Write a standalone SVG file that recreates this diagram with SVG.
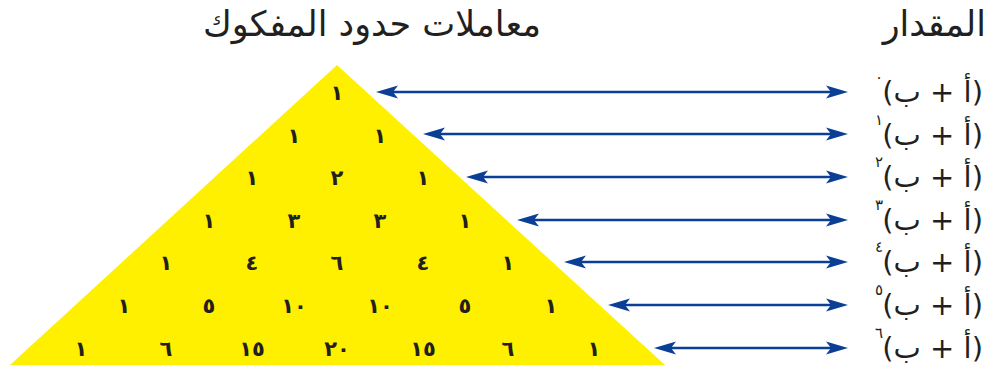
<svg xmlns="http://www.w3.org/2000/svg" width="988" height="365" viewBox="0 0 988 365">
<style>
.hd{font-family:"DejaVu Sans",sans-serif;font-size:35px;fill:#231f20}
.num{font-family:"DejaVu Sans",sans-serif;font-size:21px;font-weight:bold;fill:#231f20;text-anchor:middle}
.lbl{font-family:"DejaVu Sans",sans-serif;font-size:29px;fill:#231f20}
.sup{font-family:"DejaVu Sans",sans-serif;font-size:15px;fill:#231f20;text-anchor:middle}
.arr{stroke:#0b3f96;stroke-width:2.6;fill:none;marker-start:url(#ah);marker-end:url(#ah)}
</style>
<defs>
<marker id="ah" markerUnits="userSpaceOnUse" viewBox="0 -7 22 14" refX="12" refY="0" markerWidth="22" markerHeight="14" orient="auto-start-reverse">
<path d="M22,0 L0,-6.5 L5,0 L0,6.5 Z" fill="#0b3f96"/>
</marker>
</defs>
<g id="headers">
<text class="hd" x="372" y="36" text-anchor="middle" direction="rtl">معاملات حدود المفكوك</text>
<text class="hd" x="986" y="36" direction="rtl">المقدار</text>
</g>
<g id="triangle">
<polygon points="337,65 10,365 665,365" fill="#fff000"/>
<g id="row0"><text class="num" x="337" y="100">١</text></g>
<g id="row1"><text class="num" x="294" y="143">١</text><text class="num" x="380" y="143">١</text></g>
<g id="row2"><text class="num" x="252" y="185">١</text><text class="num" x="337" y="185">٢</text><text class="num" x="423" y="185">١</text></g>
<g id="row3"><text class="num" x="209" y="228">١</text><text class="num" x="294" y="228">٣</text><text class="num" x="380" y="228">٣</text><text class="num" x="465" y="228">١</text></g>
<g id="row4"><text class="num" x="166" y="270">١</text><text class="num" x="252" y="270">٤</text><text class="num" x="337" y="270">٦</text><text class="num" x="423" y="270">٤</text><text class="num" x="508" y="270">١</text></g>
<g id="row5"><text class="num" x="124" y="313">١</text><text class="num" x="209" y="313">٥</text><text class="num" x="294" y="313">١٠</text><text class="num" x="380" y="313">١٠</text><text class="num" x="465" y="313">٥</text><text class="num" x="551" y="313">١</text></g>
<g id="row6"><text class="num" x="81" y="356">١</text><text class="num" x="166" y="356">٦</text><text class="num" x="252" y="356">١٥</text><text class="num" x="337" y="356">٢٠</text><text class="num" x="423" y="356">١٥</text><text class="num" x="508" y="356">٦</text><text class="num" x="594" y="356">١</text></g>
</g>
<g id="connectors">
<line class="arr" x1="386" y1="92" x2="838" y2="92"/>
<line class="arr" x1="433" y1="134" x2="838" y2="134"/>
<line class="arr" x1="476" y1="177" x2="838" y2="177"/>
<line class="arr" x1="527" y1="220" x2="838" y2="220"/>
<line class="arr" x1="574" y1="262" x2="838" y2="262"/>
<line class="arr" x1="618" y1="305" x2="838" y2="305"/>
<line class="arr" x1="664" y1="348" x2="838" y2="348"/>
</g>
<g id="labels">
<g id="lbl0"><text class="lbl" x="983" y="102" direction="rtl">(أ + ب)</text><text class="sup" x="879" y="82">٠</text></g>
<g id="lbl1"><text class="lbl" x="983" y="145" direction="rtl">(أ + ب)</text><text class="sup" x="879" y="125">١</text></g>
<g id="lbl2"><text class="lbl" x="983" y="187" direction="rtl">(أ + ب)</text><text class="sup" x="879" y="167">٢</text></g>
<g id="lbl3"><text class="lbl" x="983" y="230" direction="rtl">(أ + ب)</text><text class="sup" x="879" y="210">٣</text></g>
<g id="lbl4"><text class="lbl" x="983" y="272" direction="rtl">(أ + ب)</text><text class="sup" x="879" y="252">٤</text></g>
<g id="lbl5"><text class="lbl" x="983" y="315" direction="rtl">(أ + ب)</text><text class="sup" x="879" y="295">٥</text></g>
<g id="lbl6"><text class="lbl" x="983" y="358" direction="rtl">(أ + ب)</text><text class="sup" x="879" y="338">٦</text></g>
</g>
</svg>
